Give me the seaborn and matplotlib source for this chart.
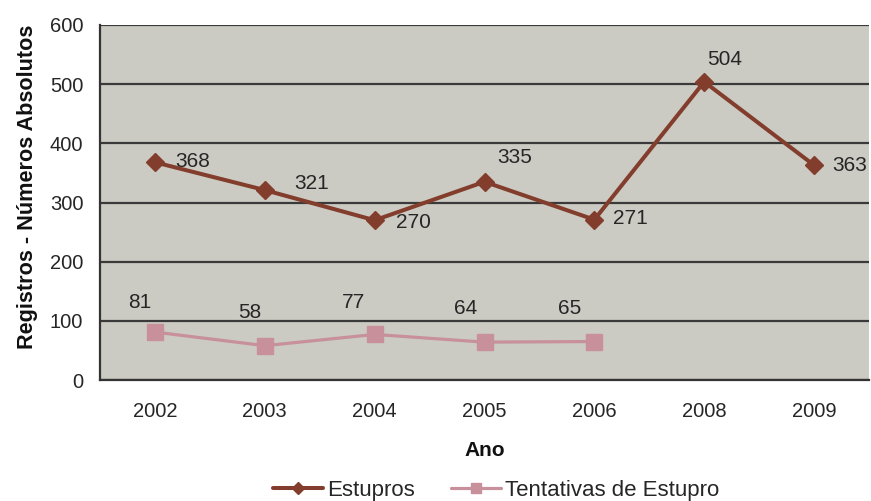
import matplotlib
matplotlib.use("Agg")
import matplotlib.pyplot as plt
import seaborn as sns
import pandas as pd
import numpy as np

anos = ["2002", "2003", "2004", "2005", "2006", "2008", "2009"]
estupros = [368, 321, 270, 335, 271, 504, 363]
tentativas = [81, 58, 77, 64, 65, np.nan, np.nan]

# label offsets in pixels (dx, dy up), text centred
est_offsets = [(38, 1), (47, 7), (39, -2), (30, 24), (36, 1), (20, 22), (36, 0)]
ten_offsets = [(-15, 30), (-15, 33), (-21, 32), (-19, 34), (-25, 33)]

sns.set_style("white")
plt.rcParams['font.family'] = ['Liberation Sans', 'DejaVu Sans']

BROWN = "#833D2C"
PINK = "#C7909B"
BG = "#CCCBC3"
TXT = "#262626"
PX = 0.72  # points per pixel at 100 dpi

df = pd.DataFrame({"Ano": anos, "Estupros": estupros, "Tentativas de Estupro": tentativas})
xpos = np.arange(len(anos))

fig = plt.figure(figsize=(8.71, 5.01), dpi=100)
ax = fig.add_axes([100 / 871, 1 - 380 / 501, 769 / 871, 355 / 501])
ax.set_facecolor(BG)

sns.lineplot(x=xpos, y=df["Estupros"], ax=ax, color=BROWN, lw=2.9, marker="D",
             markersize=9, markeredgecolor=BROWN, markeredgewidth=1, label="Estupros", zorder=3)
sns.lineplot(x=xpos, y=df["Tentativas de Estupro"], ax=ax, color=PINK, lw=2.3, marker="s",
             markersize=12, markeredgecolor=PINK, markeredgewidth=1,
             label="Tentativas de Estupro", zorder=3)

for i, v in enumerate(estupros):
    dx, dy = est_offsets[i]
    ax.annotate(f"{v}", (xpos[i], v), xytext=(dx * PX, dy * PX), textcoords="offset points",
                ha="center", va="center", fontsize=15, color=TXT, zorder=4)
for i, v in enumerate(tentativas):
    if not np.isnan(v):
        dx, dy = ten_offsets[i]
        ax.annotate(f"{int(v)}", (xpos[i], v), xytext=(dx * PX, dy * PX), textcoords="offset points",
                    ha="center", va="center", fontsize=15, color=TXT, zorder=4)

ax.set_xlim(-0.5, len(anos) - 0.5)
ax.set_ylim(0, 600)
ax.set_yticks(np.arange(0, 601, 100))
ax.set_yticklabels([str(v) for v in range(0, 601, 100)], fontsize=14.5, color=TXT)
ax.set_xticks(xpos)
ax.set_xticklabels(anos, fontsize=14.5, color=TXT)
ax.tick_params(axis="x", length=0, pad=16)
ax.set_xticks(np.arange(-0.5, len(anos) + 0.5, 1), minor=True)
ax.tick_params(axis="x", which="minor", length=6, width=1.5, color="#333333", direction="out")
ax.tick_params(axis="y", length=6, width=1.5, color="#333333", direction="out", pad=6)

ax.yaxis.grid(True, color="#3a3a3a", lw=1.6)
ax.set_axisbelow(True)
for s in ["top", "right"]:
    ax.spines[s].set_visible(False)
for s in ["left", "bottom"]:
    ax.spines[s].set_color("#333333")
    ax.spines[s].set_linewidth(1.6)

ax.set_xlabel("Ano", fontsize=15, fontweight="bold", labelpad=14, color="#111111")
ax.set_ylabel("Registros - Números Absolutos", fontsize=15.6, fontweight="bold",
              color="#111111")
ax.yaxis.set_label_coords(-0.08, 0.544)

ax.legend(loc="center", bbox_to_anchor=(0.515, -0.31), ncol=2, frameon=False,
          fontsize=16, handlelength=2.25, columnspacing=1.6, handletextpad=0.2,
          markerscale=0.65)

fig.savefig("out.png", dpi=100)
